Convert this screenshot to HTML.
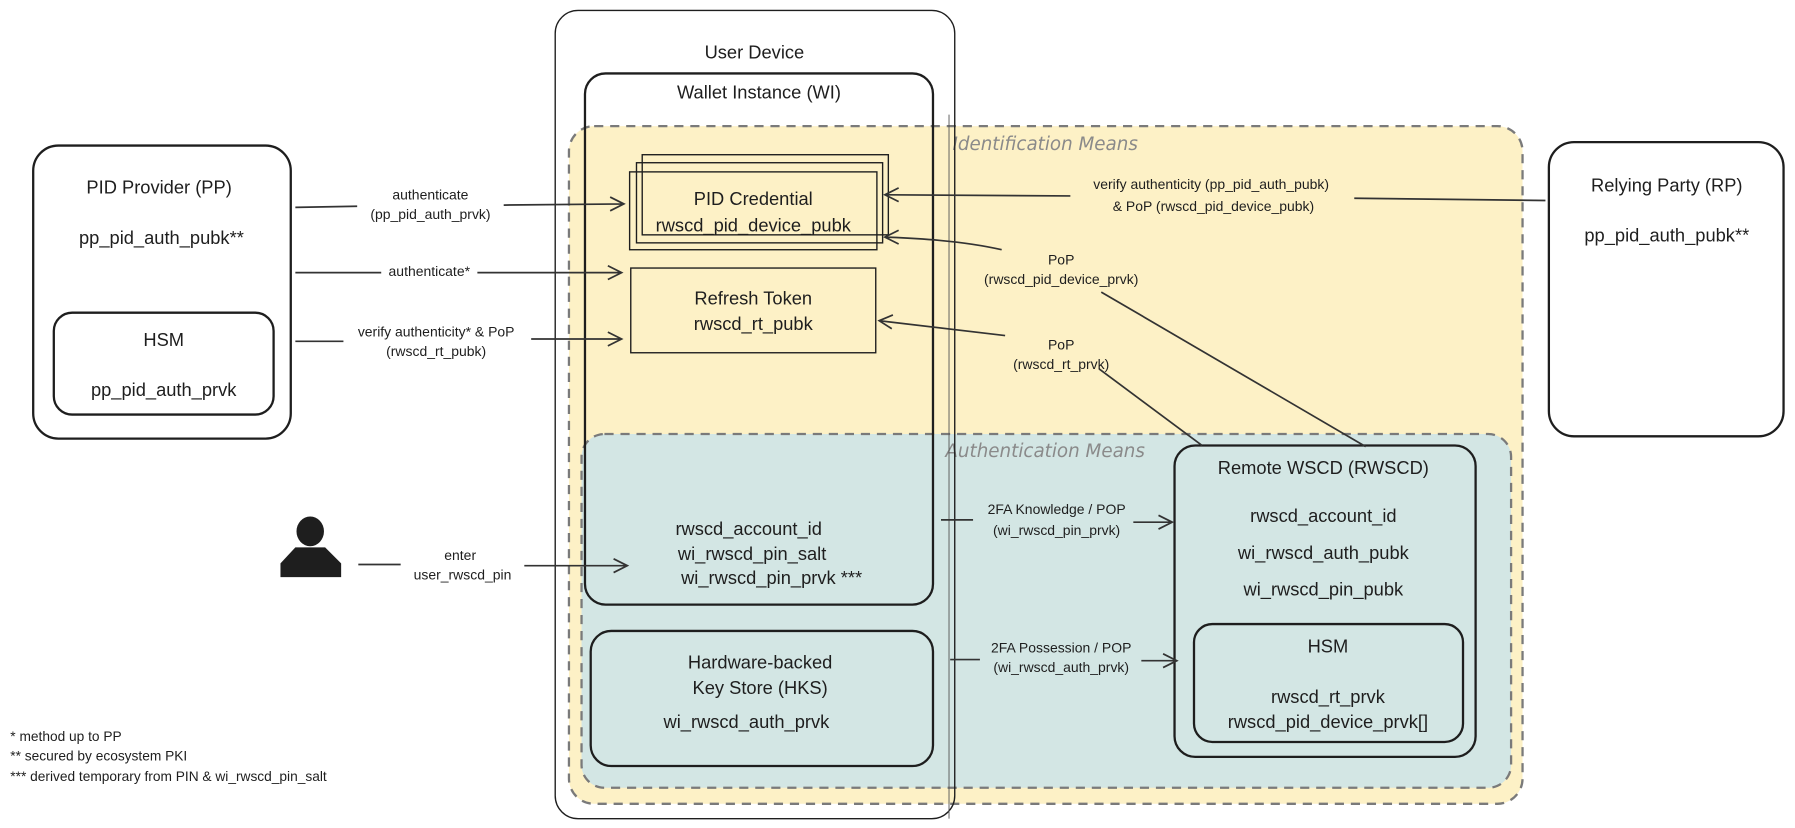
<!DOCTYPE html>
<html><head><meta charset="utf-8"><style>
html,body{margin:0;padding:0;background:#fff;}
svg{display:block}
text{font-family:"Liberation Sans",sans-serif;fill:#1e1e1e;}
.m{font-size:16px;text-anchor:middle}
.s{font-size:12.2px;text-anchor:middle}
.h{font-size:16px;text-anchor:middle;fill:#8a8a8a;font-family:"DejaVu Sans",sans-serif;font-style:italic}
.f{font-size:12px}
.b{fill:none;stroke:#1e1e1e;stroke-width:2}
.t{fill:none;stroke:#1e1e1e;stroke-width:1.2}
.a{fill:none;stroke:#333;stroke-width:1.5}
</style></head><body>
<svg width="1795" height="828" viewBox="0 0 1568 723" xmlns="http://www.w3.org/2000/svg">
<rect x="497" y="110" width="833" height="592" rx="22" fill="#fdf1c6" stroke="#7a7a7a" stroke-width="2" stroke-dasharray="8 6"/>
<rect x="508" y="379" width="812" height="309" rx="20" fill="#d3e6e4" stroke="#7a7a7a" stroke-width="2" stroke-dasharray="8 6"/>
<text class="h" x="913" y="131">Identification Means</text>
<text class="h" x="913" y="399">Authentication  Means</text>
<rect x="485" y="9" width="349" height="706" rx="20" class="t"/>
<line x1="829" y1="100" x2="829" y2="715" stroke="#555" stroke-width="0.8"/>
<text class="m" x="659" y="51">User Device</text>
<rect x="511" y="64" width="304" height="464" rx="18" class="b"/>
<text class="m" x="663" y="86">Wallet Instance (WI)</text>
<rect x="561" y="135" width="215" height="70" fill="#fdf1c6" class="t"/>
<rect x="556" y="142" width="215" height="70" fill="#fdf1c6" class="t"/>
<rect x="550" y="150" width="216" height="68" fill="#fdf1c6" class="t"/>
<text class="m" x="658" y="179">PID Credential</text>
<text class="m" x="658" y="202">rwscd_pid_device_pubk</text>
<rect x="551" y="234" width="214" height="74" fill="#fdf1c6" class="t"/>
<text class="m" x="658" y="266">Refresh Token</text>
<text class="m" x="658" y="288">rwscd_rt_pubk</text>
<text class="m" x="654" y="467">rwscd_account_id</text>
<text class="m" x="657" y="489">wi_rwscd_pin_salt</text>
<text class="m" x="674" y="510">wi_rwscd_pin_prvk ***</text>
<rect x="516" y="551" width="299" height="118" rx="18" class="b"/>
<text class="m" x="664" y="584">Hardware-backed</text>
<text class="m" x="664" y="606">Key Store (HKS)</text>
<text class="m" x="652" y="636">wi_rwscd_auth_prvk</text>
<rect x="1026" y="389" width="263" height="272" rx="18" class="b"/>
<text class="m" x="1156" y="414">Remote WSCD (RWSCD)</text>
<text class="m" x="1156" y="456">rwscd_account_id</text>
<text class="m" x="1156" y="488">wi_rwscd_auth_pubk</text>
<text class="m" x="1156" y="520">wi_rwscd_pin_pubk</text>
<rect x="1043" y="545" width="235" height="103" rx="16" class="b"/>
<text class="m" x="1160" y="570">HSM</text>
<text class="m" x="1160" y="614">rwscd_rt_prvk</text>
<text class="m" x="1160" y="636">rwscd_pid_device_prvk[]</text>
<rect x="29" y="127" width="225" height="256" rx="22" class="b"/>
<text class="m" x="139" y="169">PID Provider (PP)</text>
<text class="m" x="141" y="213">pp_pid_auth_pubk**</text>
<rect x="47" y="273" width="192" height="89" rx="16" class="b"/>
<text class="m" x="143" y="302">HSM</text>
<text class="m" x="143" y="346">pp_pid_auth_prvk</text>
<rect x="1353" y="124" width="205" height="257" rx="22" class="b"/>
<text class="m" x="1456" y="167">Relying Party (RP)</text>
<text class="m" x="1456" y="211">pp_pid_auth_pubk**</text>
<ellipse cx="271" cy="464" rx="12" ry="13" fill="#1e1e1e"/>
<path d="M258 478 L284 478 L298 492 L298 504 L245 504 L245 492 Z" fill="#1e1e1e"/>
<g class="a">
<path d="M258 181 L312 180 M440 179 L545 178 M533 172 L545 178 L533 184"/>
<path d="M258 238 L543 238 M531 232 L543 238 L531 244"/>
<path d="M258 298 L300 298 M464 296 L543 296 M531 290 L543 296 L531 302"/>
<path d="M1350 175 L1183 173 M935 171 L773 170 M785 164 L773 170 L785 176"/>
<path d="M875 218 C840 210 800 208 773 207 M785 201 L773 207 L785 213"/>
<path d="M962 255 L1193 390"/>
<path d="M878 293 L768 280 M780 275 L768 280 L779 287"/>
<path d="M960 322 L1050 389"/>
<path d="M822 454 L850 454 M990 456 L1024 456 M1012 450 L1024 456 L1012 462"/>
<path d="M830 576 L856 576 M997 577 L1028 577 M1016 571 L1028 577 L1016 583"/>
<path d="M313 493 L350 493 M458 494 L548 494 M536 488 L548 494 L536 500"/>
</g>
<text class="s" x="376" y="174">authenticate</text>
<text class="s" x="376" y="191">(pp_pid_auth_prvk)</text>
<rect x="333" y="230" width="84" height="14" fill="#fff"/>
<text class="s" x="375" y="241">authenticate*</text>
<text class="s" x="381" y="294">verify authenticity* &amp; PoP</text>
<text class="s" x="381" y="311">(rwscd_rt_pubk)</text>
<text class="s" x="1058" y="165">verify authenticity (pp_pid_auth_pubk)</text>
<text class="s" x="1060" y="184">&amp; PoP (rwscd_pid_device_pubk)</text>
<text class="s" x="927" y="231">PoP</text>
<text class="s" x="927" y="248">(rwscd_pid_device_prvk)</text>
<text class="s" x="927" y="305">PoP</text>
<text class="s" x="927" y="322">(rwscd_rt_prvk)</text>
<text class="s" x="923" y="449">2FA Knowledge / POP</text>
<text class="s" x="923" y="467">(wi_rwscd_pin_prvk)</text>
<text class="s" x="927" y="570">2FA Possession / POP</text>
<text class="s" x="927" y="587">(wi_rwscd_auth_prvk)</text>
<text class="s" x="402" y="489">enter</text>
<text class="s" x="404" y="506">user_rwscd_pin</text>
<text class="f" x="9" y="647">* method up to PP</text>
<text class="f" x="9" y="664">** secured by ecosystem PKI</text>
<text class="f" x="9" y="682">*** derived temporary from PIN &amp; wi_rwscd_pin_salt</text>
</svg>
</body></html>
